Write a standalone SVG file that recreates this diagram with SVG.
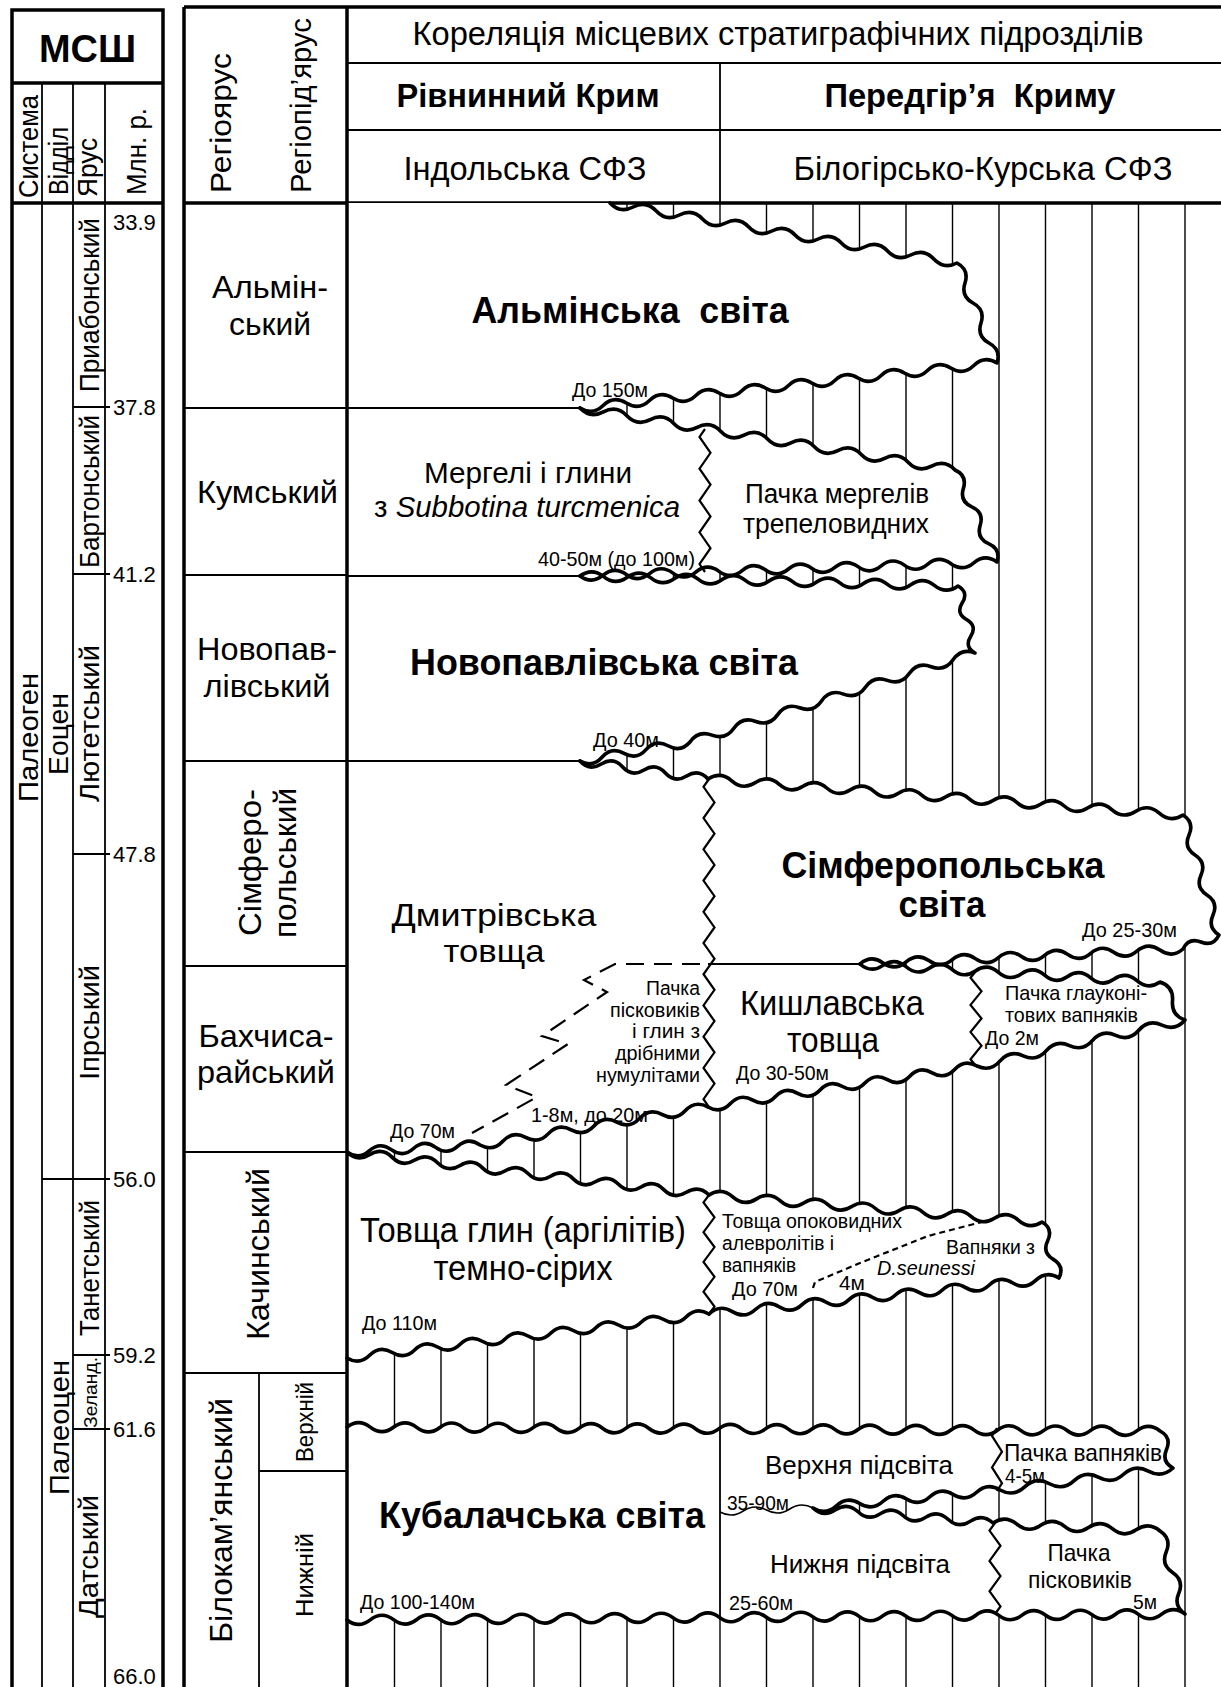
<svg xmlns="http://www.w3.org/2000/svg" width="1221" height="1687" viewBox="0 0 1221 1687">
<style>
text{font-family:"Liberation Sans",Arial,sans-serif;fill:#000}
.m{text-anchor:middle}
.e{text-anchor:end}
.b{font-weight:bold}
.i{font-style:italic}
.hv{stroke:#000;stroke-width:3.5;fill:none}
.th{stroke:#000;stroke-width:1.8;fill:none}
.ht line{stroke:#000;stroke-width:1.4}
.fw{fill:#fff;stroke:none}
.wv{fill:none;stroke:#000;stroke-width:3.6;stroke-linejoin:round;stroke-linecap:round}
.wt{fill:none;stroke:#000;stroke-width:1.6}
.zz{fill:none;stroke:#000;stroke-width:2.2}
.ds{fill:none;stroke:#000;stroke-width:2.2;stroke-dasharray:18 10}
.ds2{fill:none;stroke:#000;stroke-width:2.2;stroke-dasharray:6 4}
.s20{font-size:21px}
.s32{font-size:32px}
.s34{font-size:35px}
.bb{font-size:37px;font-weight:bold}
</style>

<!-- MSШ panel -->
<g id="msh">
  <rect x="12" y="10" width="151" height="1690" class="hv"/>
  <line x1="12" y1="83" x2="163" y2="83" class="hv"/>
  <line x1="12" y1="203" x2="163" y2="203" class="hv"/>
  <line x1="42" y1="83" x2="42" y2="1687" class="th"/>
  <line x1="73" y1="83" x2="73" y2="1687" class="th"/>
  <line x1="105" y1="83" x2="105" y2="1687" class="th"/>
  <g class="th">
    <line x1="73" y1="407" x2="110" y2="407"/>
    <line x1="73" y1="574" x2="110" y2="574"/>
    <line x1="73" y1="854" x2="110" y2="854"/>
    <line x1="42" y1="1179" x2="110" y2="1179"/>
    <line x1="73" y1="1355" x2="110" y2="1355"/>
    <line x1="73" y1="1429" x2="110" y2="1429"/>
  </g>
  <text x="87.5" y="62" class="m b" font-size="39" textLength="97" lengthAdjust="spacingAndGlyphs">МСШ</text>
  <g font-size="27">
    <text transform="translate(38,146.5) rotate(-90)" class="m" textLength="103" lengthAdjust="spacingAndGlyphs">Система</text>
    <text transform="translate(68,161) rotate(-90)" class="m" textLength="68" lengthAdjust="spacingAndGlyphs">Відділ</text>
    <text transform="translate(97,167.5) rotate(-90)" class="m" textLength="59" lengthAdjust="spacingAndGlyphs">Ярус</text>
    <text transform="translate(146,151.5) rotate(-90)" class="m" textLength="87" lengthAdjust="spacingAndGlyphs">Млн. р.</text>
    <text transform="translate(38,737.5) rotate(-90)" class="m" textLength="129" lengthAdjust="spacingAndGlyphs">Палеоген</text>
    <text transform="translate(68,734) rotate(-90)" class="m" textLength="82" lengthAdjust="spacingAndGlyphs">Еоцен</text>
    <text transform="translate(69,1427.5) rotate(-90)" class="m" textLength="135" lengthAdjust="spacingAndGlyphs">Палеоцен</text>
    <text transform="translate(99,305) rotate(-90)" class="m" textLength="174" lengthAdjust="spacingAndGlyphs">Приабонський</text>
    <text transform="translate(99,491.5) rotate(-90)" class="m" textLength="153" lengthAdjust="spacingAndGlyphs">Бартонський</text>
    <text transform="translate(99,723.5) rotate(-90)" class="m" textLength="157" lengthAdjust="spacingAndGlyphs">Лютетський</text>
    <text transform="translate(99,1022.5) rotate(-90)" class="m" textLength="115" lengthAdjust="spacingAndGlyphs">Іпрський</text>
    <text transform="translate(99,1268) rotate(-90)" class="m" textLength="136" lengthAdjust="spacingAndGlyphs">Танетський</text>
    <text transform="translate(97,1392.5) rotate(-90)" class="m" font-size="19" textLength="71" lengthAdjust="spacingAndGlyphs">Зеланд.</text>
    <text transform="translate(98,1556.5) rotate(-90)" class="m" textLength="123" lengthAdjust="spacingAndGlyphs">Датський</text>
  </g>
  <g font-size="22">
    <text x="113" y="230">33.9</text>
    <text x="113" y="415">37.8</text>
    <text x="113" y="582">41.2</text>
    <text x="113" y="862">47.8</text>
    <text x="113" y="1187">56.0</text>
    <text x="113" y="1363">59.2</text>
    <text x="113" y="1437">61.6</text>
    <text x="113" y="1684">66.0</text>
  </g>
</g>

<!-- Regional panel frame -->
<g id="regional">
  <line x1="184" y1="7" x2="1221" y2="7" class="hv"/>
  <line x1="184" y1="203" x2="1221" y2="203" class="hv"/>
  <line x1="184" y1="7" x2="184" y2="1687" class="hv"/>
  <line x1="347" y1="63" x2="1221" y2="63" class="th"/>
  <line x1="347" y1="130" x2="1221" y2="130" class="th"/>
  <line x1="720" y1="63" x2="720" y2="203" class="th"/>
  <g class="th">
    <line x1="184" y1="408" x2="347" y2="408"/>
    <line x1="184" y1="575" x2="347" y2="575"/>
    <line x1="184" y1="761" x2="347" y2="761"/>
    <line x1="184" y1="966" x2="347" y2="966"/>
    <line x1="184" y1="1152" x2="347" y2="1152"/>
    <line x1="184" y1="1373" x2="347" y2="1373"/>
    <line x1="259" y1="1373" x2="259" y2="1687"/>
    <line x1="259" y1="1471" x2="347" y2="1471"/>
  </g>
  <text transform="translate(231,123) rotate(-90)" class="m" font-size="30" textLength="140" lengthAdjust="spacingAndGlyphs">Регіоярус</text>
  <text transform="translate(311,105.5) rotate(-90)" class="m" font-size="30" textLength="175" lengthAdjust="spacingAndGlyphs">Регіопід’ярус</text>
  <g class="s32">
    <text x="270" y="298" class="m" textLength="116" lengthAdjust="spacingAndGlyphs">Альмін-</text>
    <text x="270" y="335" class="m" textLength="82" lengthAdjust="spacingAndGlyphs">ський</text>
    <text x="267.5" y="503" class="m" textLength="141" lengthAdjust="spacingAndGlyphs">Кумський</text>
    <text x="267" y="660" class="m" textLength="140" lengthAdjust="spacingAndGlyphs">Новопав-</text>
    <text x="267" y="697" class="m" textLength="127" lengthAdjust="spacingAndGlyphs">лівський</text>
    <text transform="translate(261,862.5) rotate(-90)" class="m" textLength="147" lengthAdjust="spacingAndGlyphs">Сімферо-</text>
    <text transform="translate(296,863) rotate(-90)" class="m" textLength="150" lengthAdjust="spacingAndGlyphs">польський</text>
    <text x="266" y="1047" class="m" textLength="135" lengthAdjust="spacingAndGlyphs">Бахчиса-</text>
    <text x="266" y="1083" class="m" textLength="138" lengthAdjust="spacingAndGlyphs">райський</text>
    <text transform="translate(269,1254) rotate(-90)" class="m" textLength="172" lengthAdjust="spacingAndGlyphs">Качинський</text>
    <text transform="translate(232,1520.5) rotate(-90)" class="m" textLength="245" lengthAdjust="spacingAndGlyphs">Білокам’янський</text>
  </g>
  <text transform="translate(313,1422) rotate(-90)" class="m" font-size="24" textLength="80" lengthAdjust="spacingAndGlyphs">Верхній</text>
  <text transform="translate(313,1575) rotate(-90)" class="m" font-size="24" textLength="84" lengthAdjust="spacingAndGlyphs">Нижній</text>
  <text x="778" y="45" class="m" font-size="33" textLength="731" lengthAdjust="spacingAndGlyphs">Кореляція місцевих стратиграфічних підрозділів</text>
  <text x="528" y="107" class="m b" font-size="34" textLength="263" lengthAdjust="spacingAndGlyphs">Рівнинний Крим</text>
  <text x="970" y="107" class="m b" font-size="34" textLength="291" lengthAdjust="spacingAndGlyphs" xml:space="preserve">Передгір’я  Криму</text>
  <text x="525" y="180" class="m" font-size="34" textLength="243" lengthAdjust="spacingAndGlyphs">Індольська СФЗ</text>
  <text x="983" y="180" class="m" font-size="34" textLength="379" lengthAdjust="spacingAndGlyphs">Білогірсько-Курська СФЗ</text>
</g>

<!-- Hatching (gaps) -->
<g id="hatch" class="ht">
  <line x1="394.5" y1="203" x2="394.5" y2="1687"/>
  <line x1="441" y1="203" x2="441" y2="1687"/>
  <line x1="487.5" y1="203" x2="487.5" y2="1687"/>
  <line x1="534" y1="203" x2="534" y2="1687"/>
  <line x1="580.5" y1="203" x2="580.5" y2="1687"/>
  <line x1="627" y1="203" x2="627" y2="1687"/>
  <line x1="673.5" y1="203" x2="673.5" y2="1687"/>
  <line x1="720" y1="203" x2="720" y2="1687"/>
  <line x1="766.5" y1="203" x2="766.5" y2="1687"/>
  <line x1="813" y1="203" x2="813" y2="1687"/>
  <line x1="859.5" y1="203" x2="859.5" y2="1687"/>
  <line x1="906" y1="203" x2="906" y2="1687"/>
  <line x1="952.5" y1="203" x2="952.5" y2="1687"/>
  <line x1="999" y1="203" x2="999" y2="1687"/>
  <line x1="1045.5" y1="203" x2="1045.5" y2="1687"/>
  <line x1="1092" y1="203" x2="1092" y2="1687"/>
  <line x1="1138.5" y1="203" x2="1138.5" y2="1687"/>
  <line x1="1185" y1="203" x2="1185" y2="1687"/>
</g>

<!-- Formation fills -->
<g id="fills" class="fw">
  <path d="M347,203 L610,203 q10.03,10.87 23.133,4 t23.133,4 t23.133,4 t23.133,4 t23.133,4 t23.133,4 t23.133,4 t23.133,4 t23.133,4 t23.133,4 t23.133,4 t23.133,4 t23.133,4 t23.133,4 t23.133,4 q12.36,6.66 8,20 t8,20 t8,20 t8,20 t8,20 q-12.55,-7.7 -23.167,2.5 t-23.167,2.5 t-23.167,2.5 t-23.167,2.5 t-23.167,2.5 t-23.167,2.5 t-23.167,2.5 t-23.167,2.5 t-23.167,2.5 t-23.167,2.5 t-23.167,2.5 t-23.167,2.5 t-23.167,2.5 t-23.167,2.5 t-23.167,2.5 t-23.167,2.5 t-23.167,2.5 t-23.167,2.5 L347,408 Z"/>
  <path d="M347,408 L580,408 q10.25,10.82 23.4375,3.875 t23.4375,3.875 t23.4375,3.875 t23.4375,3.875 t23.4375,3.875 t23.4375,3.875 t23.4375,3.875 t23.4375,3.875 t23.4375,3.875 t23.4375,3.875 t23.4375,3.875 t23.4375,3.875 t23.4375,3.875 t23.4375,3.875 t23.4375,3.875 t23.4375,3.875 q12.39,5.46 8.4,18.4 t8.4,18.4 t8.4,18.4 t8.4,18.4 t8.4,18.4 q-11.88,-8.6 -23.1667,0.7778 t-23.1667,0.7778 t-23.1667,0.7778 t-23.1667,0.7778 t-23.1667,0.7778 t-23.1667,0.7778 t-23.1667,0.7778 t-23.1667,0.7778 t-23.1667,0.7778 t-23.1667,0.7778 t-23.1667,0.7778 t-23.1667,0.7778 t-23.1667,0.7778 t-23.1667,0.7778 t-23.1667,0.7778 t-23.1667,0.7778 t-23.1667,0.7778 t-23.1667,0.7778 L347,576 Z"/>
  <path d="M347,576 L580,576 q12.05,-8.69 23.625,0.625 t23.625,0.625 t23.625,0.625 t23.625,0.625 t23.625,0.625 t23.625,0.625 t23.625,0.625 t23.625,0.625 t23.625,0.625 t23.625,0.625 t23.625,0.625 t23.625,0.625 t23.625,0.625 t23.625,0.625 t23.625,0.625 t23.625,0.625 q10.85,6.17 4.25,16.75 t4.25,16.75 t4.25,16.75 t4.25,16.75 q-13.64,-5.17 -21.923,6.846 t-21.923,6.846 t-21.923,6.846 t-21.923,6.846 t-21.923,6.846 t-21.923,6.846 t-21.923,6.846 t-21.923,6.846 t-21.923,6.846 t-21.923,6.846 t-21.923,6.846 t-21.923,6.846 t-21.923,6.846 q-9.47,10.77 -22,3.8 t-22,3.8 t-22,3.8 t-22,3.8 t-22,3.8 L347,761 Z"/>
  <path d="M347,761 L580,761 q9.42,10.41 21.333,3 t21.333,3 t21.333,3 t21.333,3 t21.333,3 t21.333,3 L708,1107 q-12.88,-6.98 -22.8,3.8 t-22.8,3.8 t-22.8,3.8 t-22.8,3.8 t-22.8,3.8 t-22.8,3.8 t-22.8,3.8 t-22.8,3.8 t-22.8,3.8 t-22.8,3.8 q-11.55,-8.41 -22.167,1.167 t-22.167,1.167 t-22.167,1.167 t-22.167,1.167 t-22.167,1.167 t-22.167,1.167 Z"/>
  <path d="M708,779 q12.55,-8.07 23.75,1.8 t23.75,1.8 t23.75,1.8 t23.75,1.8 t23.75,1.8 t23.75,1.8 t23.75,1.8 t23.75,1.8 t23.75,1.8 t23.75,1.8 t23.75,1.8 t23.75,1.8 t23.75,1.8 t23.75,1.8 t23.75,1.8 t23.75,1.8 t23.75,1.8 t23.75,1.8 t23.75,1.8 t23.75,1.8 q11.62,7.41 6,20 t6,20 t6,20 t6,20 t6,20 t6,20 q-5.74,11.89 -18,7 t-18,7 q-11.12,9.53 -23.071,1.071 t-23.071,1.071 t-23.071,1.071 t-23.071,1.071 t-23.071,1.071 t-23.071,1.071 t-23.071,1.071 t-23.071,1.071 t-23.071,1.071 t-23.071,1.071 t-23.071,1.071 t-23.071,1.071 t-23.071,1.071 t-23.071,1.071 L708,964 Z"/>
  <path d="M708,964 L860,964 q11,9.67 23.077,1.385 t23.077,1.385 t23.077,1.385 t23.077,1.385 t23.077,1.385 t23.077,1.385 t23.077,1.385 t23.077,1.385 t23.077,1.385 t23.077,1.385 t23.077,1.385 t23.077,1.385 t23.077,1.385 q13.77,4.55 12.5,19 t12.5,19 q-9.62,11.35 -23.111,5.111 t-23.111,5.111 t-23.111,5.111 t-23.111,5.111 t-23.111,5.111 t-23.111,5.111 t-23.111,5.111 t-23.111,5.111 t-23.111,5.111 q-12.57,-7.19 -22.417,3.417 t-22.417,3.417 t-22.417,3.417 t-22.417,3.417 t-22.417,3.417 t-22.417,3.417 t-22.417,3.417 t-22.417,3.417 t-22.417,3.417 t-22.417,3.417 t-22.417,3.417 t-22.417,3.417 Z"/>
  <path d="M347,1152 q10.25,10.28 22.625,2.6875 t22.625,2.6875 t22.625,2.6875 t22.625,2.6875 t22.625,2.6875 t22.625,2.6875 t22.625,2.6875 t22.625,2.6875 t22.625,2.6875 t22.625,2.6875 t22.625,2.6875 t22.625,2.6875 t22.625,2.6875 t22.625,2.6875 t22.625,2.6875 t22.625,2.6875 L709,1314 q-12.4,-7.56 -22.625,2.75 t-22.625,2.75 t-22.625,2.75 t-22.625,2.75 t-22.625,2.75 t-22.625,2.75 t-22.625,2.75 t-22.625,2.75 t-22.625,2.75 t-22.625,2.75 t-22.625,2.75 t-22.625,2.75 t-22.625,2.75 t-22.625,2.75 t-22.625,2.75 t-22.625,2.75 Z"/>
  <path d="M709,1195 q12.62,-8.01 23.786,1.929 t23.786,1.929 t23.786,1.929 t23.786,1.929 t23.786,1.929 t23.786,1.929 t23.786,1.929 t23.786,1.929 t23.786,1.929 t23.786,1.929 t23.786,1.929 t23.786,1.929 t23.786,1.929 t23.786,1.929 q11.44,6.72 5.667,18.667 t5.667,18.667 t5.667,18.667 q-12.59,-7.75 -23.333,2.4 t-23.333,2.4 t-23.333,2.4 t-23.333,2.4 t-23.333,2.4 t-23.333,2.4 t-23.333,2.4 t-23.333,2.4 t-23.333,2.4 t-23.333,2.4 t-23.333,2.4 t-23.333,2.4 t-23.333,2.4 t-23.333,2.4 t-23.333,2.4 Z"/>
  <path d="M347,1427 q11.65,-8.94 23.229,0.1143 t23.229,0.1143 t23.229,0.1143 t23.229,0.1143 t23.229,0.1143 t23.229,0.1143 t23.229,0.1143 t23.229,0.1143 t23.229,0.1143 t23.229,0.1143 t23.229,0.1143 t23.229,0.1143 t23.229,0.1143 t23.229,0.1143 t23.229,0.1143 t23.229,0.1143 t23.229,0.1143 t23.229,0.1143 t23.229,0.1143 t23.229,0.1143 t23.229,0.1143 t23.229,0.1143 t23.229,0.1143 t23.229,0.1143 t23.229,0.1143 t23.229,0.1143 t23.229,0.1143 t23.229,0.1143 t23.229,0.1143 t23.229,0.1143 t23.229,0.1143 t23.229,0.1143 t23.229,0.1143 t23.229,0.1143 t23.229,0.1143 q11.74,6.27 6.5,18.5 t6.5,18.5 q-11.22,10.5 -24.714,3.143 t-24.714,3.143 t-24.714,3.143 t-24.714,3.143 t-24.714,3.143 t-24.714,3.143 t-24.714,3.143 q-12.55,-7.83 -23.375,2.25 t-23.375,2.25 t-23.375,2.25 t-23.375,2.25 t-23.375,2.25 t-23.375,2.25 t-23.375,2.25 t-23.375,2.25 q10.5,9.91 22.5,1.875 t22.5,1.875 t22.5,1.875 t22.5,1.875 t22.5,1.875 t22.5,1.875 t22.5,1.875 t22.5,1.875 q12.36,-8.42 23.857,1.143 t23.857,1.143 t23.857,1.143 t23.857,1.143 t23.857,1.143 t23.857,1.143 t23.857,1.143 q11.75,7.78 6.25,20.75 t6.25,20.75 t6.25,20.75 t6.25,20.75 q-11.7,-8.92 -23.278,0.1667 t-23.278,0.1667 t-23.278,0.1667 t-23.278,0.1667 t-23.278,0.1667 t-23.278,0.1667 t-23.278,0.1667 t-23.278,0.1667 t-23.278,0.1667 t-23.278,0.1667 t-23.278,0.1667 t-23.278,0.1667 t-23.278,0.1667 t-23.278,0.1667 t-23.278,0.1667 t-23.278,0.1667 t-23.278,0.1667 t-23.278,0.1667 t-23.278,0.1667 t-23.278,0.1667 t-23.278,0.1667 t-23.278,0.1667 t-23.278,0.1667 t-23.278,0.1667 t-23.278,0.1667 t-23.278,0.1667 t-23.278,0.1667 t-23.278,0.1667 t-23.278,0.1667 t-23.278,0.1667 t-23.278,0.1667 t-23.278,0.1667 t-23.278,0.1667 t-23.278,0.1667 t-23.278,0.1667 t-23.278,0.1667 Z"/>
</g>

<!-- panel divider drawn over fills -->
<line x1="347" y1="7" x2="347" y2="1687" class="hv"/>

<!-- Boundaries -->
<g id="boundaries">
  <g class="th">
    <line x1="347" y1="408" x2="580" y2="408"/>
    <line x1="347" y1="576" x2="580" y2="576"/>
    <line x1="347" y1="761" x2="580" y2="761"/>
    <line x1="708" y1="964" x2="860" y2="964"/>
    <line x1="720" y1="1427" x2="720" y2="1620"/>
  </g>
  <g class="wv">
    <path id="almin" d="M610,203 q10.03,10.87 23.133,4 t23.133,4 t23.133,4 t23.133,4 t23.133,4 t23.133,4 t23.133,4 t23.133,4 t23.133,4 t23.133,4 t23.133,4 t23.133,4 t23.133,4 t23.133,4 t23.133,4 q12.36,6.66 8,20 t8,20 t8,20 t8,20 t8,20 q-12.55,-7.7 -23.167,2.5 t-23.167,2.5 t-23.167,2.5 t-23.167,2.5 t-23.167,2.5 t-23.167,2.5 t-23.167,2.5 t-23.167,2.5 t-23.167,2.5 t-23.167,2.5 t-23.167,2.5 t-23.167,2.5 t-23.167,2.5 t-23.167,2.5 t-23.167,2.5 t-23.167,2.5 t-23.167,2.5 t-23.167,2.5"/>
    <path id="kuma" d="M580,408 q10.25,10.82 23.4375,3.875 t23.4375,3.875 t23.4375,3.875 t23.4375,3.875 t23.4375,3.875 t23.4375,3.875 t23.4375,3.875 t23.4375,3.875 t23.4375,3.875 t23.4375,3.875 t23.4375,3.875 t23.4375,3.875 t23.4375,3.875 t23.4375,3.875 t23.4375,3.875 t23.4375,3.875 q12.39,5.46 8.4,18.4 t8.4,18.4 t8.4,18.4 t8.4,18.4 t8.4,18.4 q-11.88,-8.6 -23.1667,0.7778 t-23.1667,0.7778 t-23.1667,0.7778 t-23.1667,0.7778 t-23.1667,0.7778 t-23.1667,0.7778 t-23.1667,0.7778 t-23.1667,0.7778 t-23.1667,0.7778 t-23.1667,0.7778 t-23.1667,0.7778 t-23.1667,0.7778 t-23.1667,0.7778 t-23.1667,0.7778 t-23.1667,0.7778 t-23.1667,0.7778 t-23.1667,0.7778 t-23.1667,0.7778"/>
    <path id="novopavl" d="M580,576 q12.05,-8.69 23.625,0.625 t23.625,0.625 t23.625,0.625 t23.625,0.625 t23.625,0.625 t23.625,0.625 t23.625,0.625 t23.625,0.625 t23.625,0.625 t23.625,0.625 t23.625,0.625 t23.625,0.625 t23.625,0.625 t23.625,0.625 t23.625,0.625 t23.625,0.625 q10.85,6.17 4.25,16.75 t4.25,16.75 t4.25,16.75 t4.25,16.75 q-13.64,-5.17 -21.923,6.846 t-21.923,6.846 t-21.923,6.846 t-21.923,6.846 t-21.923,6.846 t-21.923,6.846 t-21.923,6.846 t-21.923,6.846 t-21.923,6.846 t-21.923,6.846 t-21.923,6.846 t-21.923,6.846 t-21.923,6.846 q-9.47,10.77 -22,3.8 t-22,3.8 t-22,3.8 t-22,3.8 t-22,3.8"/>
    <path id="dmytr" d="M580,761 q9.42,10.41 21.333,3 t21.333,3 t21.333,3 t21.333,3 t21.333,3 t21.333,3 M708,1107 q-12.88,-6.98 -22.8,3.8 t-22.8,3.8 t-22.8,3.8 t-22.8,3.8 t-22.8,3.8 t-22.8,3.8 t-22.8,3.8 t-22.8,3.8 t-22.8,3.8 t-22.8,3.8 q-11.55,-8.41 -22.167,1.167 t-22.167,1.167 t-22.167,1.167 t-22.167,1.167 t-22.167,1.167 t-22.167,1.167"/>
    <path id="simf" d="M708,779 q12.55,-8.07 23.75,1.8 t23.75,1.8 t23.75,1.8 t23.75,1.8 t23.75,1.8 t23.75,1.8 t23.75,1.8 t23.75,1.8 t23.75,1.8 t23.75,1.8 t23.75,1.8 t23.75,1.8 t23.75,1.8 t23.75,1.8 t23.75,1.8 t23.75,1.8 t23.75,1.8 t23.75,1.8 t23.75,1.8 t23.75,1.8 q11.62,7.41 6,20 t6,20 t6,20 t6,20 t6,20 t6,20 q-5.74,11.89 -18,7 t-18,7 q-11.12,9.53 -23.071,1.071 t-23.071,1.071 t-23.071,1.071 t-23.071,1.071 t-23.071,1.071 t-23.071,1.071 t-23.071,1.071 t-23.071,1.071 t-23.071,1.071 t-23.071,1.071 t-23.071,1.071 t-23.071,1.071 t-23.071,1.071 t-23.071,1.071"/>
    <path id="kyshl" d="M860,964 q11,9.67 23.077,1.385 t23.077,1.385 t23.077,1.385 t23.077,1.385 t23.077,1.385 t23.077,1.385 t23.077,1.385 t23.077,1.385 t23.077,1.385 t23.077,1.385 t23.077,1.385 t23.077,1.385 t23.077,1.385 q13.77,4.55 12.5,19 t12.5,19 q-9.62,11.35 -23.111,5.111 t-23.111,5.111 t-23.111,5.111 t-23.111,5.111 t-23.111,5.111 t-23.111,5.111 t-23.111,5.111 t-23.111,5.111 t-23.111,5.111 q-12.57,-7.19 -22.417,3.417 t-22.417,3.417 t-22.417,3.417 t-22.417,3.417 t-22.417,3.417 t-22.417,3.417 t-22.417,3.417 t-22.417,3.417 t-22.417,3.417 t-22.417,3.417 t-22.417,3.417 t-22.417,3.417"/>
    <path id="glyny" d="M347,1152 q10.25,10.28 22.625,2.6875 t22.625,2.6875 t22.625,2.6875 t22.625,2.6875 t22.625,2.6875 t22.625,2.6875 t22.625,2.6875 t22.625,2.6875 t22.625,2.6875 t22.625,2.6875 t22.625,2.6875 t22.625,2.6875 t22.625,2.6875 t22.625,2.6875 t22.625,2.6875 t22.625,2.6875 M709,1314 q-12.4,-7.56 -22.625,2.75 t-22.625,2.75 t-22.625,2.75 t-22.625,2.75 t-22.625,2.75 t-22.625,2.75 t-22.625,2.75 t-22.625,2.75 t-22.625,2.75 t-22.625,2.75 t-22.625,2.75 t-22.625,2.75 t-22.625,2.75 t-22.625,2.75 t-22.625,2.75 t-22.625,2.75"/>
    <path id="opok" d="M709,1195 q12.62,-8.01 23.786,1.929 t23.786,1.929 t23.786,1.929 t23.786,1.929 t23.786,1.929 t23.786,1.929 t23.786,1.929 t23.786,1.929 t23.786,1.929 t23.786,1.929 t23.786,1.929 t23.786,1.929 t23.786,1.929 t23.786,1.929 q11.44,6.72 5.667,18.667 t5.667,18.667 t5.667,18.667 q-12.59,-7.75 -23.333,2.4 t-23.333,2.4 t-23.333,2.4 t-23.333,2.4 t-23.333,2.4 t-23.333,2.4 t-23.333,2.4 t-23.333,2.4 t-23.333,2.4 t-23.333,2.4 t-23.333,2.4 t-23.333,2.4 t-23.333,2.4 t-23.333,2.4 t-23.333,2.4"/>
    <path id="kubal" d="M347,1427 q11.65,-8.94 23.229,0.1143 t23.229,0.1143 t23.229,0.1143 t23.229,0.1143 t23.229,0.1143 t23.229,0.1143 t23.229,0.1143 t23.229,0.1143 t23.229,0.1143 t23.229,0.1143 t23.229,0.1143 t23.229,0.1143 t23.229,0.1143 t23.229,0.1143 t23.229,0.1143 t23.229,0.1143 t23.229,0.1143 t23.229,0.1143 t23.229,0.1143 t23.229,0.1143 t23.229,0.1143 t23.229,0.1143 t23.229,0.1143 t23.229,0.1143 t23.229,0.1143 t23.229,0.1143 t23.229,0.1143 t23.229,0.1143 t23.229,0.1143 t23.229,0.1143 t23.229,0.1143 t23.229,0.1143 t23.229,0.1143 t23.229,0.1143 t23.229,0.1143 q11.74,6.27 6.5,18.5 t6.5,18.5 q-11.22,10.5 -24.714,3.143 t-24.714,3.143 t-24.714,3.143 t-24.714,3.143 t-24.714,3.143 t-24.714,3.143 t-24.714,3.143 q-12.55,-7.83 -23.375,2.25 t-23.375,2.25 t-23.375,2.25 t-23.375,2.25 t-23.375,2.25 t-23.375,2.25 t-23.375,2.25 t-23.375,2.25 q10.5,9.91 22.5,1.875 t22.5,1.875 t22.5,1.875 t22.5,1.875 t22.5,1.875 t22.5,1.875 t22.5,1.875 t22.5,1.875 q12.36,-8.42 23.857,1.143 t23.857,1.143 t23.857,1.143 t23.857,1.143 t23.857,1.143 t23.857,1.143 t23.857,1.143 q11.75,7.78 6.25,20.75 t6.25,20.75 t6.25,20.75 t6.25,20.75 q-11.7,-8.92 -23.278,0.1667 t-23.278,0.1667 t-23.278,0.1667 t-23.278,0.1667 t-23.278,0.1667 t-23.278,0.1667 t-23.278,0.1667 t-23.278,0.1667 t-23.278,0.1667 t-23.278,0.1667 t-23.278,0.1667 t-23.278,0.1667 t-23.278,0.1667 t-23.278,0.1667 t-23.278,0.1667 t-23.278,0.1667 t-23.278,0.1667 t-23.278,0.1667 t-23.278,0.1667 t-23.278,0.1667 t-23.278,0.1667 t-23.278,0.1667 t-23.278,0.1667 t-23.278,0.1667 t-23.278,0.1667 t-23.278,0.1667 t-23.278,0.1667 t-23.278,0.1667 t-23.278,0.1667 t-23.278,0.1667 t-23.278,0.1667 t-23.278,0.1667 t-23.278,0.1667 t-23.278,0.1667 t-23.278,0.1667 t-23.278,0.1667"/>
  </g>
  <path class="wt" d="M720,1512 q11.93,6.49 23.25,-1 t23.25,-1 t23.25,-1 t23.25,-1"/>
  <g class="zz">
    <path d="M705,429 l-5.5,7.94 l11,15.89 l-11,15.89 l11,15.89 l-11,15.89 l11,15.89 l-11,15.89 l11,15.89 l-11,15.89 l5.5,7.94"/>
    <path d="M709,779 l-5.5,7.81 l11,15.62 l-11,15.62 l11,15.62 l-11,15.62 l11,15.62 l-11,15.62 l11,15.62 l-11,15.62 l11,15.62 l-11,15.62 l11,15.62 l-11,15.62 l11,15.62 l-11,15.62 l11,15.62 l-11,15.62 l11,15.62 l-11,15.62 l11,15.62 l-11,15.62 l5.5,7.81"/>
    <path d="M976,971 l-5.5,6.79 l11,13.57 l-11,13.57 l11,13.57 l-11,13.57 l11,13.57 l-11,13.57 l5.5,6.79"/>
    <path d="M709,1195 l-5.5,7.44 l11,14.875 l-11,14.875 l11,14.875 l-11,14.875 l11,14.875 l-11,14.875 l11,14.875 l-5.5,7.44"/>
    <path d="M997,1428 l-5,7.875 l10,15.75 l-10,15.75 l10,15.75 l-5,7.875"/>
    <path d="M995,1523 l-5.5,7.58 l11,15.17 l-11,15.17 l11,15.17 l-11,15.17 l11,15.17 l-5.5,7.58"/>
  </g>
  <path class="ds" d="M700,964 L615,964 L584,980 L607,992 L542,1036 L568,1044 L506,1085 L537,1097 L472,1133"/>
  <path class="ds2" d="M813,1288 L815,1282 L860,1263 L928,1236 L993,1219"/>
</g>

<!-- Formation labels -->
<g id="labels">
  <text x="630" y="323" class="m bb" textLength="317" lengthAdjust="spacingAndGlyphs" xml:space="preserve">Альмінська  світа</text>
  <text x="572" y="397" class="s20" textLength="76" lengthAdjust="spacingAndGlyphs">До 150м</text>
  <text x="528" y="483" class="m" font-size="30" textLength="208" lengthAdjust="spacingAndGlyphs">Мергелі і глини</text>
  <text x="527" y="517" class="m" font-size="30" textLength="306" lengthAdjust="spacingAndGlyphs">з <tspan class="i">Subbotina turcmenica</tspan></text>
  <text x="837" y="503" class="m" font-size="27" textLength="184" lengthAdjust="spacingAndGlyphs">Пачка мергелів</text>
  <text x="836" y="533" class="m" font-size="27" textLength="186" lengthAdjust="spacingAndGlyphs">трепеловидних</text>
  <text x="538" y="566" class="s20" textLength="157" lengthAdjust="spacingAndGlyphs">40-50м (до 100м)</text>
  <text x="604" y="675" class="m bb" textLength="388" lengthAdjust="spacingAndGlyphs">Новопавлівська світа</text>
  <text x="593" y="747" class="s20" textLength="66" lengthAdjust="spacingAndGlyphs">До 40м</text>
  <text x="494" y="926" class="m" font-size="32" textLength="205" lengthAdjust="spacingAndGlyphs">Дмитрівська</text>
  <text x="494" y="962" class="m" font-size="32" textLength="101" lengthAdjust="spacingAndGlyphs">товща</text>
  <text x="943" y="878" class="m bb" textLength="323" lengthAdjust="spacingAndGlyphs">Сімферопольська</text>
  <text x="942" y="917" class="m bb" textLength="87" lengthAdjust="spacingAndGlyphs">світа</text>
  <text x="1082" y="937" class="s20" textLength="95" lengthAdjust="spacingAndGlyphs">До 25-30м</text>
  <g class="e" font-size="20">
    <text x="700" y="995" textLength="54" lengthAdjust="spacingAndGlyphs">Пачка</text>
    <text x="700" y="1017" textLength="90" lengthAdjust="spacingAndGlyphs">пісковиків</text>
    <text x="700" y="1038" textLength="68" lengthAdjust="spacingAndGlyphs">і глин з</text>
    <text x="700" y="1060" textLength="85" lengthAdjust="spacingAndGlyphs">дрібними</text>
    <text x="700" y="1082" textLength="104" lengthAdjust="spacingAndGlyphs">нумулітами</text>
  </g>
  <text x="832" y="1015" class="m s34" textLength="184" lengthAdjust="spacingAndGlyphs">Кишлавська</text>
  <text x="833" y="1052" class="m s34" textLength="92" lengthAdjust="spacingAndGlyphs">товща</text>
  <text x="736" y="1080" class="s20" textLength="93" lengthAdjust="spacingAndGlyphs">До 30-50м</text>
  <text x="1005" y="1000" class="s20" textLength="142" lengthAdjust="spacingAndGlyphs">Пачка глауконі-</text>
  <text x="1005" y="1022" class="s20" textLength="133" lengthAdjust="spacingAndGlyphs">тових вапняків</text>
  <text x="985" y="1045" class="s20" textLength="54" lengthAdjust="spacingAndGlyphs">До 2м</text>
  <text x="390" y="1138" class="s20" textLength="65" lengthAdjust="spacingAndGlyphs">До 70м</text>
  <text x="531" y="1122" class="s20" textLength="117" lengthAdjust="spacingAndGlyphs">1-8м, до 20м</text>
  <text x="523" y="1242" class="m s34" textLength="326" lengthAdjust="spacingAndGlyphs">Товща глин (аргілітів)</text>
  <text x="523" y="1280" class="m s34" textLength="179" lengthAdjust="spacingAndGlyphs">темно-сірих</text>
  <text x="362" y="1330" class="s20" textLength="75" lengthAdjust="spacingAndGlyphs">До 110м</text>
  <g font-size="20.5">
    <text x="722" y="1228" textLength="180" lengthAdjust="spacingAndGlyphs">Товща опоковидних</text>
    <text x="722" y="1250" textLength="112" lengthAdjust="spacingAndGlyphs">алевролітів і</text>
    <text x="722" y="1272" textLength="74" lengthAdjust="spacingAndGlyphs">вапняків</text>
    <text x="732" y="1296" textLength="66" lengthAdjust="spacingAndGlyphs">До 70м</text>
    <text x="839" y="1290" textLength="26" lengthAdjust="spacingAndGlyphs">4м</text>
    <text x="946" y="1254" textLength="89" lengthAdjust="spacingAndGlyphs">Вапняки з</text>
    <text x="877" y="1275" class="i" textLength="98" lengthAdjust="spacingAndGlyphs">D.seunessi</text>
  </g>
  <text x="542" y="1528" class="m bb" textLength="326" lengthAdjust="spacingAndGlyphs">Кубалачська світа</text>
  <text x="859" y="1474" class="m" font-size="26" textLength="188" lengthAdjust="spacingAndGlyphs">Верхня підсвіта</text>
  <text x="727" y="1510" class="s20" textLength="62" lengthAdjust="spacingAndGlyphs">35-90м</text>
  <text x="1004" y="1461" font-size="24" textLength="158" lengthAdjust="spacingAndGlyphs">Пачка вапняків</text>
  <text x="1005" y="1483" class="s20" textLength="40" lengthAdjust="spacingAndGlyphs">4-5м</text>
  <text x="860" y="1573" class="m" font-size="26" textLength="180" lengthAdjust="spacingAndGlyphs">Нижня підсвіта</text>
  <text x="1079" y="1561" class="m" font-size="24" textLength="63" lengthAdjust="spacingAndGlyphs">Пачка</text>
  <text x="1080" y="1588" class="m" font-size="24" textLength="104" lengthAdjust="spacingAndGlyphs">пісковиків</text>
  <text x="1133" y="1609" class="s20" textLength="24" lengthAdjust="spacingAndGlyphs">5м</text>
  <text x="360" y="1609" class="s20" textLength="115" lengthAdjust="spacingAndGlyphs">До 100-140м</text>
  <text x="729" y="1610" class="s20" textLength="64" lengthAdjust="spacingAndGlyphs">25-60м</text>
</g>
</svg>
